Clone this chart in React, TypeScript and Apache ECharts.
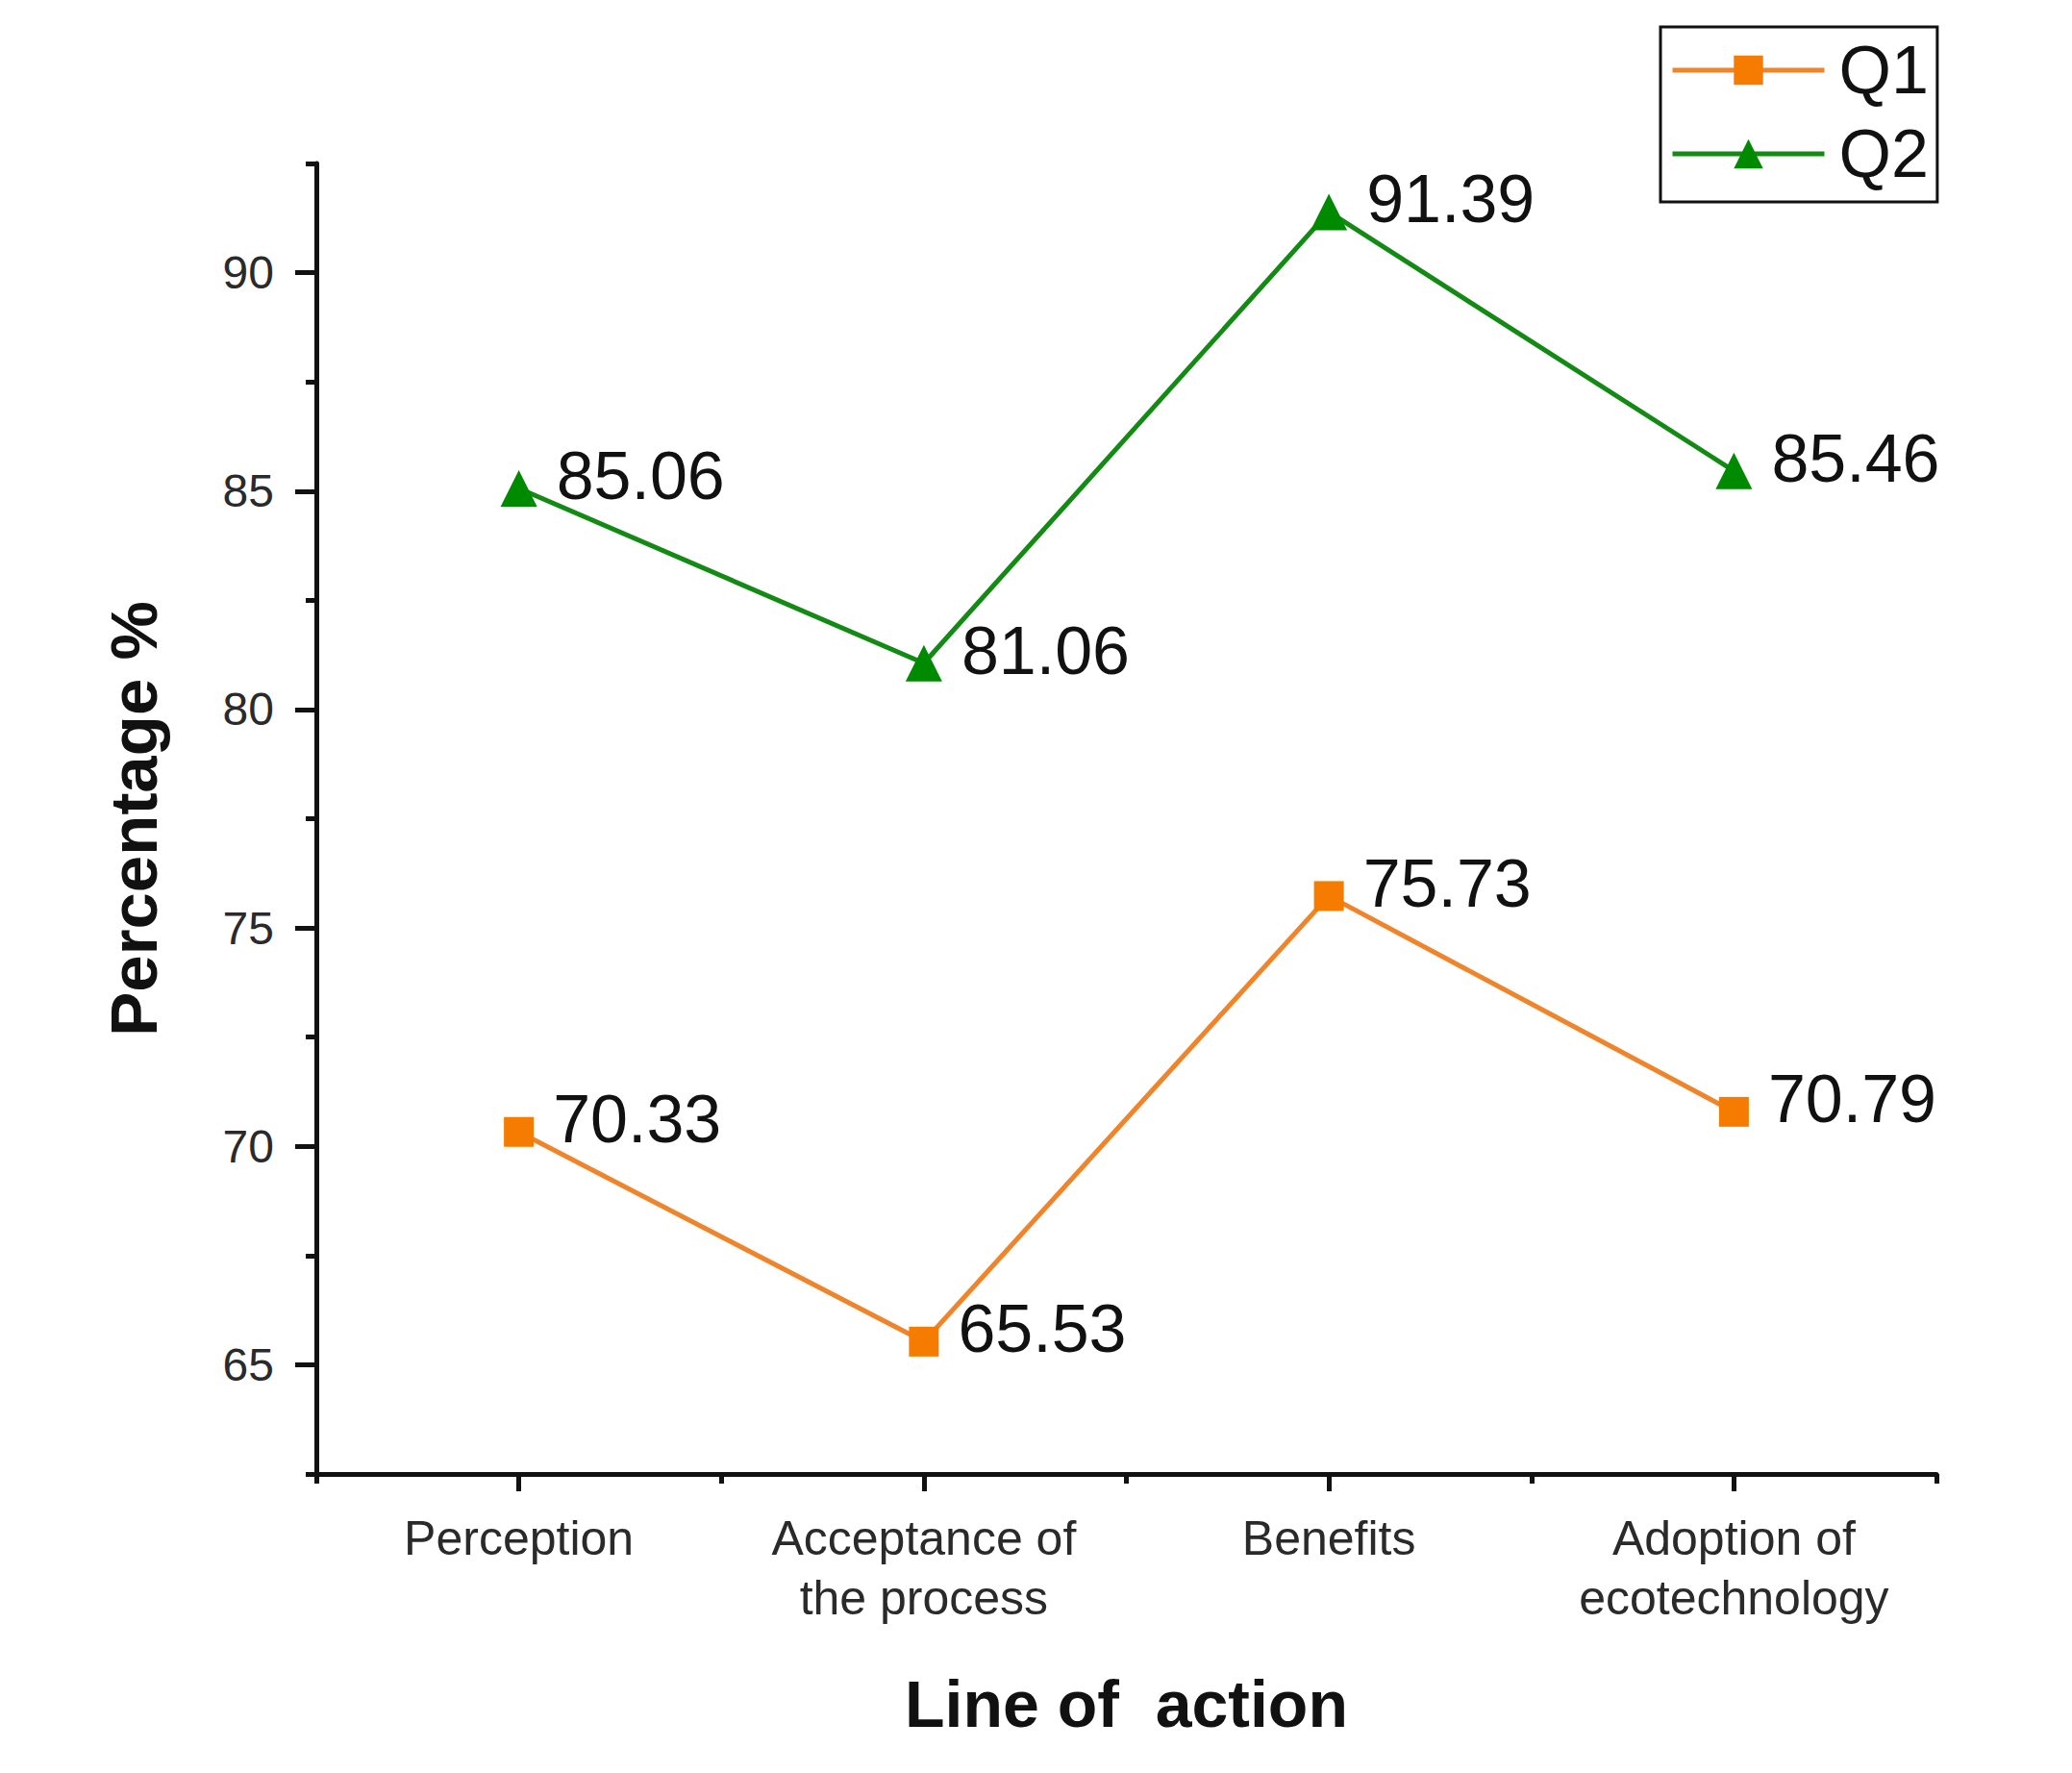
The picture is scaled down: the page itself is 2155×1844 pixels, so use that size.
import React, { useEffect, useRef } from "react";
import * as echarts from "echarts";

const categories = ["Perception", "Acceptance of\nthe process", "Benefits", "Adoption of\necotechnology"];
const q1Values = [70.33, 65.53, 75.73, 70.79];
const q2Values = [85.06, 81.06, 91.39, 85.46];
const yMajorTicks = [65, 70, 75, 80, 85, 90];
const yMinorTicks = [62.5, 67.5, 72.5, 77.5, 82.5, 87.5, 92.5];
const seriesNames = ["Q1", "Q2"];

const FONT = "'Liberation Sans', Arial, sans-serif";

export default function App() {
  const ref = useRef<HTMLDivElement>(null);
  useEffect(() => {
    if (!ref.current) return;
    const chart = echarts.init(ref.current, null, { renderer: "svg" });
    const labelCfg = {
      show: true,
      position: "right",
      distance: 20,
      offset: [0, -13],
      fontSize: 70,
      fontFamily: FONT,
      color: "#111",
      formatter: (p: any) => Number(p.value).toFixed(2),
    };
    chart.setOption({
      animation: false,
      backgroundColor: "#ffffff",
      grid: { left: 329, right: 141, top: 170, bottom: 311, outerBoundsMode: "none" },
      legend: {
        orient: "vertical",
        left: 1727,
        top: 28,
        itemWidth: 158,
        itemHeight: 38,
        itemGap: 17,
        padding: [10, 9, 15, 10],
        borderColor: "#111",
        borderWidth: 3,
        lineStyle: { width: 5 },
        textStyle: { fontSize: 70, fontFamily: FONT, color: "#111", padding: [0, 0, 0, 10] },
        data: seriesNames,
      },
      xAxis: [
        {
          type: "category",
          data: categories,
          boundaryGap: true,
          axisLine: { show: true, lineStyle: { color: "#111", width: 5 } },
          axisTick: { show: true, alignWithLabel: true, length: 18, lineStyle: { color: "#111", width: 5 } },
          axisLabel: { fontSize: 50, lineHeight: 62, margin: 36, color: "#2a2a2a", fontFamily: FONT, interval: 0 },
          splitLine: { show: false },
          name: "Line of  action",
          nameLocation: "middle",
          nameGap: 205,
          nameTextStyle: { fontSize: 68, fontWeight: "bold", color: "#111", fontFamily: FONT },
        },
        {
          type: "category",
          data: categories,
          position: "bottom",
          boundaryGap: true,
          axisLine: { show: false },
          axisTick: { show: true, length: 10, lineStyle: { color: "#111", width: 5 } },
          axisLabel: { show: false },
          splitLine: { show: false },
        },
      ],
      yAxis: [
        {
          type: "value",
          position: "left",
          min: 62.5,
          max: 92.5,
          axisLine: { show: true, lineStyle: { color: "#111", width: 5 } },
          axisTick: { show: true, customValues: yMajorTicks, length: 22, lineStyle: { color: "#111", width: 5 } },
          axisLabel: { customValues: yMajorTicks, fontSize: 48, margin: 44, color: "#2a2a2a", fontFamily: FONT },
          splitLine: { show: false },
          name: "Percentage %",
          nameLocation: "middle",
          nameGap: 155,
          nameRotate: 90,
          nameTextStyle: { fontSize: 69, fontWeight: "bold", color: "#111", fontFamily: FONT },
        },
        {
          type: "value",
          position: "left",
          min: 62.5,
          max: 92.5,
          axisLine: { show: false },
          axisTick: { show: true, customValues: yMinorTicks, length: 11, lineStyle: { color: "#111", width: 5 } },
          axisLabel: { show: false },
          splitLine: { show: false },
        },
      ],
      series: [
        {
          name: seriesNames[0],
          type: "line",
          data: q1Values,
          symbol: "rect",
          symbolSize: 31,
          lineStyle: { color: "#F0842A", width: 5 },
          itemStyle: { color: "#F57C00" },
          label: labelCfg,
        },
        {
          name: seriesNames[1],
          type: "line",
          data: q2Values,
          symbol: "triangle",
          symbolSize: 38,
          lineStyle: { color: "#138A13", width: 5 },
          itemStyle: { color: "#008A00" },
          label: labelCfg,
        },
      ],
    });
    return () => chart.dispose();
  }, []);
  return (
    <div
      ref={ref}
      style={{ position: "absolute", left: 0, top: 0, width: 2155, height: 1844, background: "#fff" }}
    />
  );
}
